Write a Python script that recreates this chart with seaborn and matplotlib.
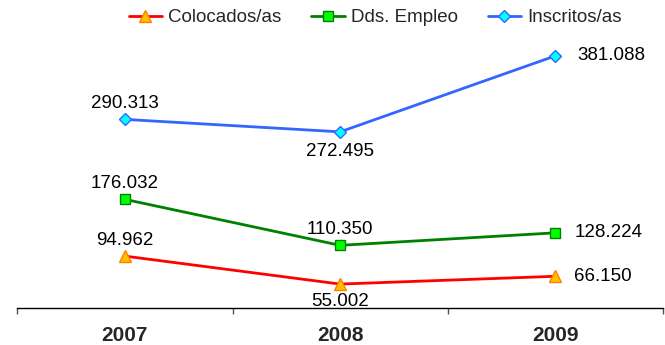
import matplotlib
matplotlib.use('Agg')
import matplotlib.pyplot as plt
import numpy as np
import pandas as pd
import seaborn as sns

years = ['2007', '2008', '2009']
colocados = [94962, 55002, 66150]
demandantes = [176032, 110350, 128224]
inscritos = [290313, 272495, 381088]

series_names = ['Colocados/as', 'Dds. Empleo', 'Inscritos/as']
series_values = [colocados, demandantes, inscritos]

sns.set_style('white')
plt.rcParams['font.family'] = ['Liberation Sans', 'DejaVu Sans']

styles = {
    'Colocados/as': dict(color='#FF0000', marker='^', mfc='#FFC000', mec='#FF8000', ms=9),
    'Dds. Empleo': dict(color='#008000', marker='s', mfc='#00FF00', mec='#008000', ms=7),
    'Inscritos/as': dict(color='#3366FF', marker='D', mfc='#00FFFF', mec='#3366FF', ms=6),
}
# label placement per point: (dx, dy, ha) in pixels
offsets = {
    'Colocados/as': [(0, 16, 'center'), (0, -17, 'center'), (19, 0, 'left')],
    'Dds. Empleo': [(0, 16, 'center'), (0, 16, 'center'), (19, 0, 'left')],
    'Inscritos/as': [(0, 16, 'center'), (0, -20, 'center'), (22, 0, 'left')],
}

fig = plt.figure(figsize=(6.65, 3.45), dpi=100)
ax = fig.add_axes([0.026, 0.107, 0.971, 0.806])

for name, vals in zip(series_names, series_values):
    df = pd.DataFrame({'year': years, 'value': vals})
    st = styles[name]
    sns.lineplot(data=df, x='year', y='value', ax=ax, color=st['color'], lw=2,
                 marker=st['marker'], markerfacecolor=st['mfc'],
                 markeredgecolor=st['mec'], markersize=st['ms'],
                 markeredgewidth=1, label=name)
    for i, v in enumerate(vals):
        dx, dy, ha = offsets[name][i]
        ax.annotate(f'{v:,}'.replace(',', '.'), (i, v), xytext=(dx, dy),
                    textcoords='offset pixels', ha=ha, va='center',
                    fontsize=13.5, color='black')

ax.set_xlim(-0.5, 2.5)
ax.set_ylim(20700, 418000)
ax.set_yticks([])
ax.set_xlabel('')
ax.set_ylabel('')
for s in ['top', 'right', 'left']:
    ax.spines[s].set_visible(False)
ax.spines['bottom'].set_color('black')
ax.spines['bottom'].set_linewidth(1)

ax.set_xticks([-0.5, 0.5, 1.5, 2.5], minor=True)
ax.tick_params(axis='x', which='minor', length=4, width=1, color='#555555', bottom=True)
ax.tick_params(axis='x', which='major', length=0, pad=13)
ax.set_xticks(range(len(years)))
ax.set_xticklabels(years, fontsize=15, fontweight='bold')

ax.legend(loc='center', bbox_to_anchor=(0.554, 1.045), ncol=3, frameon=False,
          fontsize=13.5, handlelength=1.8, columnspacing=1.6, handletextpad=0.3)

fig.savefig('out.png', dpi=100)
